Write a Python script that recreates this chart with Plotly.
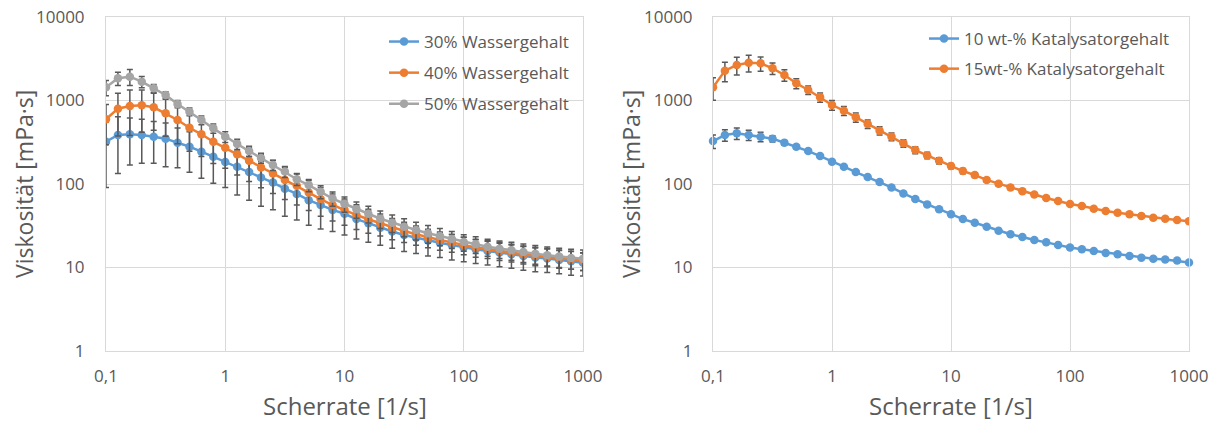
import plotly.graph_objects as go

# ---------------- data ----------------
shear_rate = [0.1, 0.1259, 0.1585, 0.1995, 0.2512, 0.3162, 0.3981, 0.5012, 0.631, 0.7943,
              1, 1.259, 1.585, 1.995, 2.512, 3.162, 3.981, 5.012, 6.31, 7.943,
              10, 12.59, 15.85, 19.95, 25.12, 31.62, 39.81, 50.12, 63.1, 79.43,
              100, 125.9, 158.5, 199.5, 251.2, 316.2, 398.1, 501.2, 631, 794.3, 1000]

left_names = ["30% Wassergehalt", "40% Wassergehalt", "50% Wassergehalt"]
water30 = [321, 386, 394, 386, 369, 349, 312, 280, 244, 212,
           183, 161, 139, 120, 104, 88, 76, 64, 56, 49,
           44, 38, 34, 30, 27, 24.5, 22.7, 21, 19.8, 18.6,
           17.4, 16.5, 15.8, 15.1, 14.4, 13.7, 13.2, 12.8, 12.3, 11.9, 11.4]
water30_err = [230, 252, 225, 209, 192, 188, 155, 142, 127, 110,
               92, 87, 75, 66, 55, 47, 39, 32, 27, 22,
               19.5, 16, 14, 11.5, 10, 9, 8, 7.3, 6.6, 6.3,
               5.7, 5.3, 5.1, 4.9, 4.6, 4.4, 4.3, 4.1, 3.9, 3.8, 3.5]
water40 = [596, 798, 859, 876, 829, 702, 584, 472, 394, 321,
           272, 227, 190, 158, 134, 112, 95, 79, 66, 56,
           49, 42.5, 37.8, 33.8, 30, 27.4, 25, 23, 21.3, 20,
           18.6, 17.4, 16.7, 15.8, 15.1, 14.4, 13.8, 13.4, 12.9, 12.5, 12.1]
water40_err = [300, 421, 477, 460, 390, 330, 280, 225, 180, 145,
               118, 99, 83, 68, 57, 47, 39, 31, 25, 20,
               17, 14, 12, 10, 8.5, 7.5, 6.5, 5.8, 5.2, 4.8,
               4.4, 4.1, 3.9, 3.7, 3.5, 3.4, 3.3, 3.2, 3.1, 3.0, 2.9]
water50 = [1439, 1845, 1930, 1680, 1400, 1164, 908, 735, 584, 464,
           369, 301, 248, 205, 169, 141, 114, 97, 81, 67,
           58, 50, 44, 38.4, 34.4, 30.8, 28.1, 25.7, 23.8, 21.9,
           20.2, 19, 17.7, 16.8, 16.1, 15.3, 14.6, 14, 13.5, 13, 12.7]
water50_err = [300, 330, 420, 260, 150, 110, 90, 80, 70, 60,
               54, 42, 35, 28, 24, 21, 18, 16, 14.5, 13,
               12, 11, 10, 9, 8.2, 7.5, 6.8, 6.2, 5.6, 5,
               4.5, 4.3, 4.1, 4, 3.9, 3.8, 3.7, 3.6, 3.5, 3.5, 3.5]

right_names = ["10 wt-% Katalysatorgehalt", "15wt-% Katalysatorgehalt"]
cat10 = [327, 386, 405, 386, 369, 349, 312, 280, 248, 216,
         185, 161, 139, 121, 106, 91, 77, 66, 57, 50,
         43.4, 38, 34.4, 30.8, 27.6, 25, 23.2, 21.3, 20, 18.6,
         17.4, 16.5, 15.8, 14.9, 14.4, 13.7, 13.1, 12.7, 12.5, 12.1, 11.5]
cat10_err = [60, 60, 65, 55, 48, 30, 20, 15, 12, 10,
             8, 7, 6, 5, 4.5, 4, 3.5, 3, 2.6, 2.2,
             1.9, 1.7, 1.5, 1.3, 1.2, 1.1, 1, 0.9, 0.8, 0.8,
             0.7, 0.7, 0.6, 0.6, 0.6, 0.5, 0.5, 0.5, 0.5, 0.5, 0.5]
cat15 = [1439, 2275, 2662, 2838, 2786, 2428, 2020, 1607, 1336, 1092,
         883, 755, 629, 523, 435, 369, 307, 255, 220, 190,
         164, 143, 128, 112, 101, 91, 82, 75, 68, 62.6,
         57.6, 54.5, 50.6, 47.5, 45.3, 43.4, 41.4, 39.5, 38.4, 37.1, 35.7]
cat15_err = [430, 600, 640, 650, 540, 380, 320, 220, 160, 140,
             120, 95, 80, 60, 50, 40, 32, 25, 20, 16,
             12, 10, 8, 6.5, 5.5, 4.8, 4.2, 3.7, 3.3, 3,
             2.8, 2.6, 2.4, 2.3, 2.2, 2.1, 2, 1.9, 1.8, 1.8, 1.7]

x_tickvals = [0.1, 1, 10, 100, 1000]
x_ticktext = ["0,1", "1", "10", "100", "1000"]
y_tickvals = [1, 10, 100, 1000, 10000]
y_ticktext = ["1", "10", "100", "1000", "10000"]
x_title = "Scherrate [1/s]"
y_title = "Viskosität [mPa·s]"

# ---------------- style ----------------
W, H = 1215, 421
BLUE, ORANGE, GRAY = "#5B9BD5", "#ED7D31", "#A5A5A5"
ERR = "#595959"
TXT = "#595959"
GRID = "#D9D9D9"
FONT = "Open Sans"

L_PLOT = (106, 583)
R_PLOT = (713, 1189)
TOP, BOT = 17, 351


def px_x(p):
    return p / W


def px_y(p):
    return 1 - p / H


fig = go.Figure()


def add(x, y, err, name, color, xa, ya, legend, clip=True):
    fig.add_trace(go.Scatter(
        x=x, y=y, name=name, mode="lines+markers",
        xaxis=xa, yaxis=ya, legend=legend, legendgroup=name,
        line=dict(color=color, width=2.5),
        marker=dict(color=color, size=8.5, symbol="circle"),
        error_y=dict(type="data", array=err, visible=True, color=ERR,
                     thickness=1.5, width=3),
        cliponaxis=clip,
    ))


add(shear_rate, water30, water30_err, left_names[0], BLUE, "x", "y", "legend")
add(shear_rate, water40, water40_err, left_names[1], ORANGE, "x", "y", "legend")
add(shear_rate, water50, water50_err, left_names[2], GRAY, "x", "y", "legend")
add(shear_rate, cat10, cat10_err, right_names[0], BLUE, "x2", "y2", "legend2", clip=False)
add(shear_rate, cat15, cat15_err, right_names[1], ORANGE, "x2", "y2", "legend2")

axis_common = dict(
    type="log", showgrid=True, gridcolor=GRID, gridwidth=1,
    showline=True, linecolor=GRID, linewidth=1, mirror=True,
    zeroline=False, ticks="", automargin=False,
    tickfont=dict(family=FONT, size=17, color=TXT),
)

fig.update_layout(
    width=W, height=H,
    margin=dict(l=0, r=0, t=0, b=0, autoexpand=False),
    paper_bgcolor="white", plot_bgcolor="white",
    font=dict(family=FONT, color=TXT),
    showlegend=True,
    xaxis=dict(axis_common, domain=[px_x(L_PLOT[0]), px_x(L_PLOT[1])], anchor="y",
               range=[-1, 3], tickvals=x_tickvals, ticktext=x_ticktext, ticklabelstandoff=10),
    yaxis=dict(axis_common, domain=[px_y(BOT), px_y(TOP)], anchor="x",
               range=[0, 4], tickvals=y_tickvals, ticktext=y_ticktext, ticklabelstandoff=17),
    xaxis2=dict(axis_common, domain=[px_x(R_PLOT[0]), px_x(R_PLOT[1])], anchor="y2",
                range=[-1, 3], tickvals=x_tickvals, ticktext=x_ticktext, ticklabelstandoff=10),
    yaxis2=dict(axis_common, domain=[px_y(BOT), px_y(TOP)], anchor="x2",
                range=[0, 4], tickvals=y_tickvals, ticktext=y_ticktext, ticklabelstandoff=16),
    legend=dict(x=px_x(384), y=px_y(24), xanchor="left", yanchor="top",
                bgcolor="rgba(0,0,0,0)", font=dict(family=FONT, size=17, color=TXT),
                tracegroupgap=6, itemwidth=30),
    legend2=dict(x=px_x(924), y=px_y(21), xanchor="left", yanchor="top",
                 bgcolor="rgba(0,0,0,0)", font=dict(family=FONT, size=17, color=TXT),
                 tracegroupgap=5, itemwidth=30),
)

annotations = [
    dict(text=x_title, x=px_x((L_PLOT[0] + L_PLOT[1]) / 2), y=px_y(405), size=24),
    dict(text=x_title, x=px_x((R_PLOT[0] + R_PLOT[1]) / 2), y=px_y(405), size=24),
    dict(text=y_title, x=px_x(24), y=px_y((TOP + BOT) / 2), textangle=-90, size=23),
    dict(text=y_title, x=px_x(631), y=px_y((TOP + BOT) / 2), textangle=-90, size=23),
]
for a in annotations:
    size = a.pop("size")
    fig.add_annotation(xref="paper", yref="paper", showarrow=False,
                       xanchor="center", yanchor="middle", borderpad=0,
                       font=dict(family=FONT, size=size, color=TXT), **a)

fig.write_html("out.html")
